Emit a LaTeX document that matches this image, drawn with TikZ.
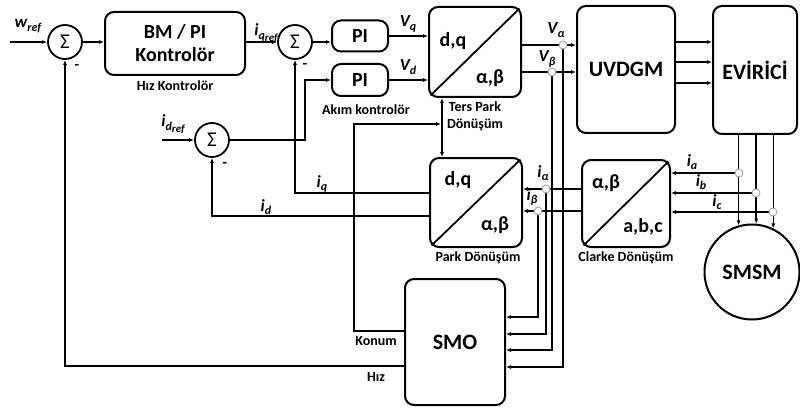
\documentclass[tikz,border=0pt]{standalone}
\usepackage{fontspec}
\setmainfont{Carlito}
\usetikzlibrary{arrows.meta}
\newcommand{\vlab}[2]{\textbf{\textit{#1\raisebox{-0.45ex}{\fontsize{12}{12}\selectfont #2}}}}
\newcommand{\vvlab}[3]{\textbf{\textit{#1\raisebox{-0.45ex}{\fontsize{12}{12}\selectfont #2\raisebox{-0.3ex}{\fontsize{11}{11}\selectfont #3}}}}}
\begin{document}
\begin{tikzpicture}[x=1pt,y=-1pt,
  blk/.style={draw, line width=2pt, rounded corners=9pt, align=center, inner sep=0pt, font=\fontsize{20}{23}\selectfont\bfseries},
  bigblk/.style={blk, font=\fontsize{22}{24}\selectfont\bfseries},
  sumn/.style={draw, circle, line width=1.8pt, minimum size=34pt, inner sep=0pt, font=\fontsize{21}{21}\selectfont},
  ln/.style={line width=1.5pt},
  arr/.style={ln, -{Latex[length=5pt,width=4pt]}},
  dbl/.style={ln, {Latex[length=5pt,width=4pt]}-{Latex[length=5pt,width=4pt]}},
  jn/.style={circle, draw=gray!70, fill=white, line width=0.9pt, minimum size=8pt, inner sep=0pt},
  small/.style={font=\fontsize{14}{16}\selectfont\bfseries, inner sep=0pt},
  lab/.style={font=\fontsize{17}{17}\selectfont, inner sep=0pt},
  inl/.style={font=\fontsize{20}{20}\selectfont\bfseries, inner sep=0pt},
  minus/.style={font=\fontsize{15}{15}\selectfont\bfseries, inner sep=0pt}
]
\useasboundingbox (0,0) rectangle (800,409);

% blocks
\node[sumn] (s1) at (65,42) {Σ};
\node[blk, minimum width=140pt, minimum height=63pt] (bm) at (175,43.5) {BM / PI\\Kontrolör};
\node[small] (bmlab) at (175,86) {Hız Kontrolör};
\node[sumn] (s2) at (295,42) {Σ};
\node[sumn] (s3) at (212,140) {Σ};
\node[blk, minimum width=56pt, minimum height=31pt] (pi1) at (360,36) {PI};
\node[blk, minimum width=56pt, minimum height=32pt] (pi2) at (360,80) {PI};
\node[small] (pilab) at (366,110) {Akım kontrolör};
\node[blk, minimum width=92pt, minimum height=90pt] (tp) at (475,52) {};
\node[inl] (tpdq) at (453,41) {d,q};
\node[inl] (tpab) at (490,78) {α,β};
\node[small] (tplab1) at (475,107) {Ters Park};
\node[small] (tplab2) at (475,125) {Dönüşüm};
\node[bigblk, minimum width=98pt, minimum height=127pt] (uv) at (626,69.5) {UVDGM};
\node[bigblk, minimum width=84pt, minimum height=128pt] (ev) at (755,70) {EVİRİCİ};
\node[blk, minimum width=92pt, minimum height=89pt] (park) at (476,202.5) {};
\node[inl] (pkdq) at (458,180) {d,q};
\node[inl] (pkab) at (495,225) {α,β};
\node[small] (pklab) at (478,258) {Park Dönüşüm};
\node[blk, minimum width=88pt, minimum height=87pt] (cl) at (626,203.5) {};
\node[inl] (clab1) at (606,183) {α,β};
\node[inl] (clab2) at (643,227) {a,b,c};
\node[small] (cllab) at (626,258) {Clarke Dönüşüm};
\node[bigblk, minimum width=100pt, minimum height=126pt] (smo) at (455,342) {SMO};
\node[draw, circle, line width=2pt, minimum size=95pt, inner sep=0pt, font=\fontsize{22}{22}\selectfont\bfseries] (smsm) at (752,272) {SMSM};

% diagonals
\draw[line width=1.8pt] ([shift={(2.6,-2.6)}]tp.south west) -- ([shift={(-2.6,2.6)}]tp.north east);
\draw[line width=1.8pt] ([shift={(2.6,-2.6)}]park.south west) -- ([shift={(-2.6,2.6)}]park.north east);
\draw[line width=1.8pt] ([shift={(2.6,-2.6)}]cl.south west) -- ([shift={(-2.6,2.6)}]cl.north east);

% coordinates
\coordinate (win) at (10,42);
\coordinate (idin) at (162,140);
\coordinate (jva) at (563,45);
\coordinate (jvb) at (552,72);
\coordinate (jal) at (546,189);
\coordinate (jbe) at (538,211);
\coordinate (jia) at (739,173);
\coordinate (jib) at (756,193);
\coordinate (jic) at (773,212);

% forward path
\draw[arr] (win) -- (s1.west);
\draw[arr] (s1.east) -- (s1.east -| bm.west);
\draw[arr] (bm.east |- s2) -- (s2.west);
\draw[arr] (s2.east) -- (s2.east -| pi1.west);
\draw[arr] (pi1.east) -- (pi1.east -| tp.west);
\draw[arr] (pi2.east) -- (pi2.east -| tp.west);
\draw[arr] (idin) -- (s3.west);
\draw[arr] (s3.east) -- (305,140) -- (305,80) -- (pi2.west);
\draw[arr] (jva -| tp.east) -- (jva -| uv.west);
\draw[arr] (jvb -| tp.east) -- (jvb -| uv.west);
\draw[arr] (uv.east |- 0,42) -- (ev.west |- 0,42);
\draw[arr] (uv.east |- 0,62) -- (ev.west |- 0,62);
\draw[arr] (uv.east |- 0,83) -- (ev.west |- 0,83);
\draw[arr] (smsm.106 |- ev.south) -- (smsm.106);
\draw[arr] (smsm.85 |- ev.south) -- (smsm.85);
\draw[arr] (smsm.64 |- ev.south) -- (smsm.64);

% measurement
\draw[arr] (jia) -- (jia -| cl.east);
\draw[arr] (jib) -- (jib -| cl.east);
\draw[arr] (jic) -- (jic -| cl.east);
\draw[arr] (jal -| cl.west) -- (jal -| park.east);
\draw[arr] (jbe -| cl.west) -- (jbe -| park.east);

% to SMO
\draw[arr] (jbe) -- (538,317) -- (smo.east |- 0,317);
\draw[arr] (jal) -- (546,334) -- (smo.east |- 0,334);
\draw[arr] (jvb) -- (552,350) -- (smo.east |- 0,350);
\draw[arr] (jva) -- (563,367) -- (smo.east |- 0,367);

% feedback
\draw[arr] (park.west |- 0,193) -- (s2 |- 0,193) -- (s2.south);
\draw[arr] (park.west |- 0,216) -- (s3 |- 0,216) -- (s3.south);
\draw[arr] (smo.west |- 0,366) -- (s1 |- 0,366) -- (s1.south);
\draw[arr] (smo.west |- 0,331) -- (354,331) -- (354,124) -- (441,124);
\draw[dbl] (tp.south -| 442,0) -- (park.north -| 442,0);

% junctions
\foreach \j in {jva,jvb,jal,jbe,jia,jib,jic} \node[jn] at (\j) {};

% labels
\node[lab] (lw) at (28,26) {\vlab{w}{ref}};
\node[lab] (liq) at (266,33) {\vvlab{i}{q}{ref}};
\node[lab] (lvq) at (408,24) {\vlab{V}{q}};
\node[lab] (lvd) at (408,67) {\vlab{V}{d}};
\node[lab] (lva) at (556,30) {\vlab{V}{α}};
\node[lab] (lvb) at (547,59) {\vlab{V}{β}};
\node[lab] (lidr) at (173,124) {\vvlab{i}{d}{ref}};
\node[lab] (liqq) at (322,184) {\vlab{i}{q}};
\node[lab] (lidd) at (266,207) {\vlab{i}{d}};
\node[lab] (lial) at (543,173) {\vlab{i}{α}};
\node[lab] (libe) at (532,197) {\vlab{i}{β}};
\node[lab] (lia) at (692,162) {\vlab{i}{a}};
\node[lab] (lib) at (701,182) {\vlab{i}{b}};
\node[lab] (lic) at (717,202) {\vlab{i}{c}};
\node[small] (lkon) at (376,341) {Konum};
\node[small] (lhiz) at (376,377) {Hız};
\node[minus] (m1) at (77,67) {-};
\node[minus] (m2) at (305,66) {-};
\node[minus] (m3) at (225,165) {-};
\end{tikzpicture}
\end{document}
